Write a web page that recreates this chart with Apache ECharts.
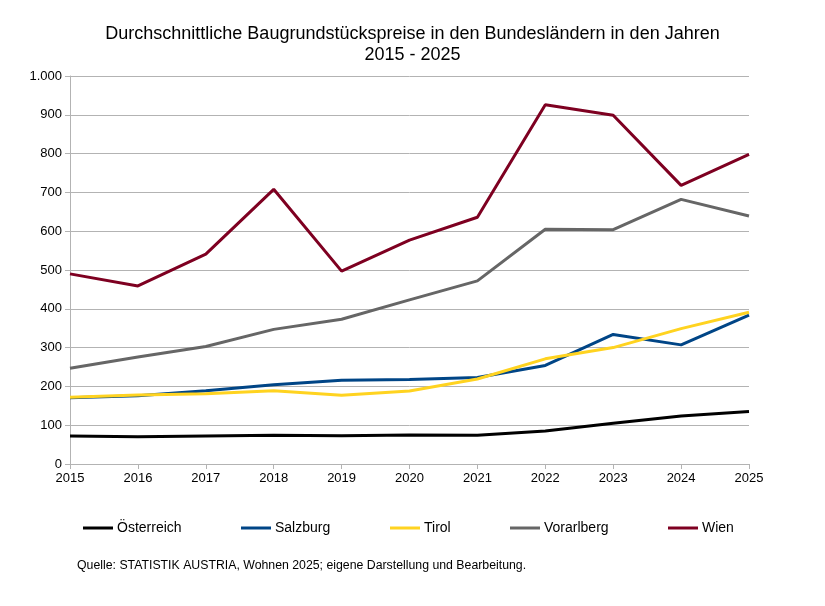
<!DOCTYPE html>
<html>
<head>
<meta charset="utf-8">
<script src="https://cdn.jsdelivr.net/npm/echarts@6/dist/echarts.min.js"></script>
<style>
  html, body { margin: 0; padding: 0; background: #fff; }
  #chart { width: 825px; height: 606px; }
</style>
</head>
<body>
<div id="chart"></div>
<script>
// Jahre und Werte (Euro pro m²)
const years = ["2015", "2016", "2017", "2018", "2019", "2020", "2021", "2022", "2023", "2024", "2025"];
const oesterreich = [72, 70, 72, 74, 73, 75, 74, 85, 105, 124, 135];
const salzburg = [171, 176, 189, 204, 216, 218, 223, 254, 334, 307, 384];
const tirol = [172, 178, 181, 189, 177, 188, 219, 271, 300, 349, 391];
const vorarlberg = [247, 276, 303, 347, 373, 423, 472, 605, 604, 682, 639];
const wien = [490, 459, 541, 708, 497, 577, 636, 926, 899, 718, 798];

const seriesNames = ["Österreich", "Salzburg", "Tirol", "Vorarlberg", "Wien"];
const seriesData = [oesterreich, salzburg, tirol, vorarlberg, wien];
const colors = ["#000000", "#004586", "#ffd320", "#666666", "#7e0021"];
const legendLeft = [83, 241, 390, 510, 668];

const font = "Liberation Sans, Arial, sans-serif";

const chart = echarts.init(document.getElementById("chart"));

const option = {
  animation: false,
  color: colors,
  textStyle: { fontFamily: font },
  title: [
    {
      text: "Durchschnittliche Baugrundstückspreise in den Bundesländern in den Jahren\n2015 - 2025",
      left: "center",
      top: 19,
      textStyle: { fontFamily: font, fontSize: 18, fontWeight: "normal", color: "#000", lineHeight: 21 },
    },
    {
      text: "Quelle: STATISTIK AUSTRIA, Wohnen 2025; eigene Darstellung und Bearbeitung.",
      left: 72,
      top: 555,
      textStyle: { fontFamily: font, fontSize: 12.3, fontWeight: "normal", color: "#000" },
    },
  ],
  legend: seriesNames.map((name, i) => ({
    data: [name],
    left: legendLeft[i],
    top: 521,
    padding: 0,
    icon: "rect",
    itemWidth: 30,
    itemHeight: 3,
    textStyle: { fontFamily: font, fontSize: 14, color: "#000", padding: [0, 0, 0, -1] },
  })),
  grid: { left: 70, right: 76, top: 76, bottom: 142 },
  xAxis: {
    type: "category",
    data: years,
    boundaryGap: false,
    axisLine: { lineStyle: { color: "#b3b3b3" } },
    axisTick: { show: true, length: 5, lineStyle: { color: "#b3b3b3" } },
    axisLabel: { color: "#000", fontSize: 13, fontFamily: font, margin: 8 },
    splitLine: { show: false },
  },
  yAxis: {
    type: "value",
    min: 0,
    max: 1000,
    interval: 100,
    axisLine: { show: true, lineStyle: { color: "#b3b3b3" } },
    axisTick: { show: true, length: 5, lineStyle: { color: "#b3b3b3" } },
    axisLabel: {
      color: "#000",
      fontSize: 13,
      fontFamily: font,
      margin: 8,
      formatter: (v) => (v >= 1000 ? (v / 1000).toFixed(0) + "." + String(v % 1000).padStart(3, "0") : String(v)),
    },
    splitLine: { show: true, lineStyle: { color: "#b3b3b3", width: 1 } },
  },
  series: seriesNames.map((name, i) => ({
    name: name,
    type: "line",
    data: seriesData[i],
    showSymbol: false,
    symbol: "none",
    lineStyle: { width: 3, color: colors[i] },
    itemStyle: { color: colors[i] },
  })),
};

chart.setOption(option);
</script>
</body>
</html>
